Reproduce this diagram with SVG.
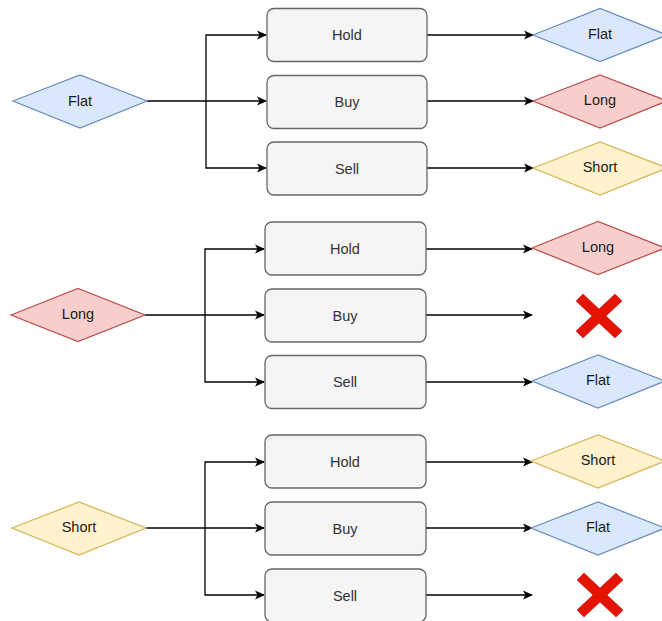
<svg xmlns="http://www.w3.org/2000/svg" width="662" height="621" viewBox="0 0 662 621">
<defs>
<style>
.lbl{font-family:"Liberation Sans",Arial,sans-serif;font-size:14.5px;fill:#333333;text-anchor:middle;dominant-baseline:central}
.dl{fill:#1a1a1a}
.box{fill:#f5f5f5;stroke:#666666;stroke-width:1.3}
.blue{fill:#dae8fc;stroke:#6c8ebf;stroke-width:1.3}
.red{fill:#f8cecc;stroke:#b85450;stroke-width:1.3}
.yel{fill:#fff2cc;stroke:#d6b656;stroke-width:1.3}
.edge{fill:none;stroke:#000000;stroke-width:1.3}
.cross{fill:#e51400;stroke:#b20000;stroke-width:0.5}
</style>
<marker id="arr" viewBox="0 0 10 10" refX="9" refY="5" markerWidth="10" markerHeight="10" markerUnits="userSpaceOnUse" orient="auto">
<path d="M0,0.5 L10,5 L0,9.5 L2.5,5 Z" fill="#000"/>
</marker>
</defs>

<g id="connectors">
<path class="edge" d="M147,101 L266,101" marker-end="url(#arr)"/>
<path class="edge" d="M206,101 L206,35 L266,35" marker-end="url(#arr)"/>
<path class="edge" d="M206,101 L206,168 L266,168" marker-end="url(#arr)"/>
<path class="edge" d="M427,35 L533,35" marker-end="url(#arr)"/>
<path class="edge" d="M427,101 L533,101" marker-end="url(#arr)"/>
<path class="edge" d="M427,168 L533,168" marker-end="url(#arr)"/>
<path class="edge" d="M145,315 L264,315" marker-end="url(#arr)"/>
<path class="edge" d="M205,315 L205,249 L264,249" marker-end="url(#arr)"/>
<path class="edge" d="M205,315 L205,382 L264,382" marker-end="url(#arr)"/>
<path class="edge" d="M426,249 L532,249" marker-end="url(#arr)"/>
<path class="edge" d="M426,315 L532,315" marker-end="url(#arr)"/>
<path class="edge" d="M426,382 L532,382" marker-end="url(#arr)"/>
<path class="edge" d="M146,528 L264,528" marker-end="url(#arr)"/>
<path class="edge" d="M205,528 L205,462 L264,462" marker-end="url(#arr)"/>
<path class="edge" d="M205,528 L205,595 L264,595" marker-end="url(#arr)"/>
<path class="edge" d="M426,462 L532,462" marker-end="url(#arr)"/>
<path class="edge" d="M426,528 L532,528" marker-end="url(#arr)"/>
<path class="edge" d="M426,595 L532,595" marker-end="url(#arr)"/>
</g>

<g id="g1-start"><polygon class="blue" points="13,101 80,75 147,101 80,128"/><text class="lbl dl" x="80" y="101">Flat</text></g>
<g id="g1-hold"><rect class="box" x="267" y="8.5" width="160" height="53" rx="7"/><text class="lbl" x="347" y="35">Hold</text></g>
<g id="g1-buy"><rect class="box" x="267" y="75.5" width="160" height="53" rx="7"/><text class="lbl" x="347" y="102">Buy</text></g>
<g id="g1-sell"><rect class="box" x="267" y="142" width="160" height="53" rx="7"/><text class="lbl" x="347" y="168.5">Sell</text></g>
<g id="g1-flat"><polygon class="blue" points="533,35 600,8.5 667,35 600,61.5"/><text class="lbl dl" x="600" y="34">Flat</text></g>
<g id="g1-long"><polygon class="red" points="533,101 600,75 667,101 600,128"/><text class="lbl dl" x="600" y="100">Long</text></g>
<g id="g1-short"><polygon class="yel" points="533,168 600,142 667,168 600,195"/><text class="lbl dl" x="600" y="167">Short</text></g>

<g id="g2-start"><polygon class="red" points="11,315 78,288.5 145,315 78,341.5"/><text class="lbl dl" x="78" y="314">Long</text></g>
<g id="g2-hold"><rect class="box" x="265" y="222" width="161" height="53" rx="7"/><text class="lbl" x="345" y="249">Hold</text></g>
<g id="g2-buy"><rect class="box" x="265" y="289" width="161" height="53" rx="7"/><text class="lbl" x="345" y="316">Buy</text></g>
<g id="g2-sell"><rect class="box" x="265" y="355.5" width="161" height="53" rx="7"/><text class="lbl" x="345" y="382">Sell</text></g>
<g id="g2-long"><polygon class="red" points="532,248 598,221.5 665,248 598,274.5"/><text class="lbl dl" x="598" y="247">Long</text></g>
<g id="g2-invalid"><polygon class="cross" points="576,301 583,294 599,309 615,294 622,301 606,316 622,331 615,338 599,323 583,338 576,331 592,316"/></g>
<g id="g2-flat"><polygon class="blue" points="532,381 598,355 665,381 598,408"/><text class="lbl dl" x="598" y="380">Flat</text></g>

<g id="g3-start"><polygon class="yel" points="12,528 79,502 146,528 79,555"/><text class="lbl dl" x="79" y="527">Short</text></g>
<g id="g3-hold"><rect class="box" x="265" y="435" width="161" height="53" rx="7"/><text class="lbl" x="345" y="462">Hold</text></g>
<g id="g3-buy"><rect class="box" x="265" y="502" width="161" height="53" rx="7"/><text class="lbl" x="345" y="529">Buy</text></g>
<g id="g3-sell"><rect class="box" x="265" y="569" width="161" height="53" rx="7"/><text class="lbl" x="345" y="596">Sell</text></g>
<g id="g3-short"><polygon class="yel" points="531,461 598,435 665,461 598,488"/><text class="lbl dl" x="598" y="460">Short</text></g>
<g id="g3-flat"><polygon class="blue" points="531,528 598,502 665,528 598,555"/><text class="lbl dl" x="598" y="527">Flat</text></g>
<g id="g3-invalid"><polygon class="cross" points="577,580 584,573 600,588 616,573 623,580 607,595 623,610 616,617 600,602 584,617 577,610 593,595"/></g>
</svg>
